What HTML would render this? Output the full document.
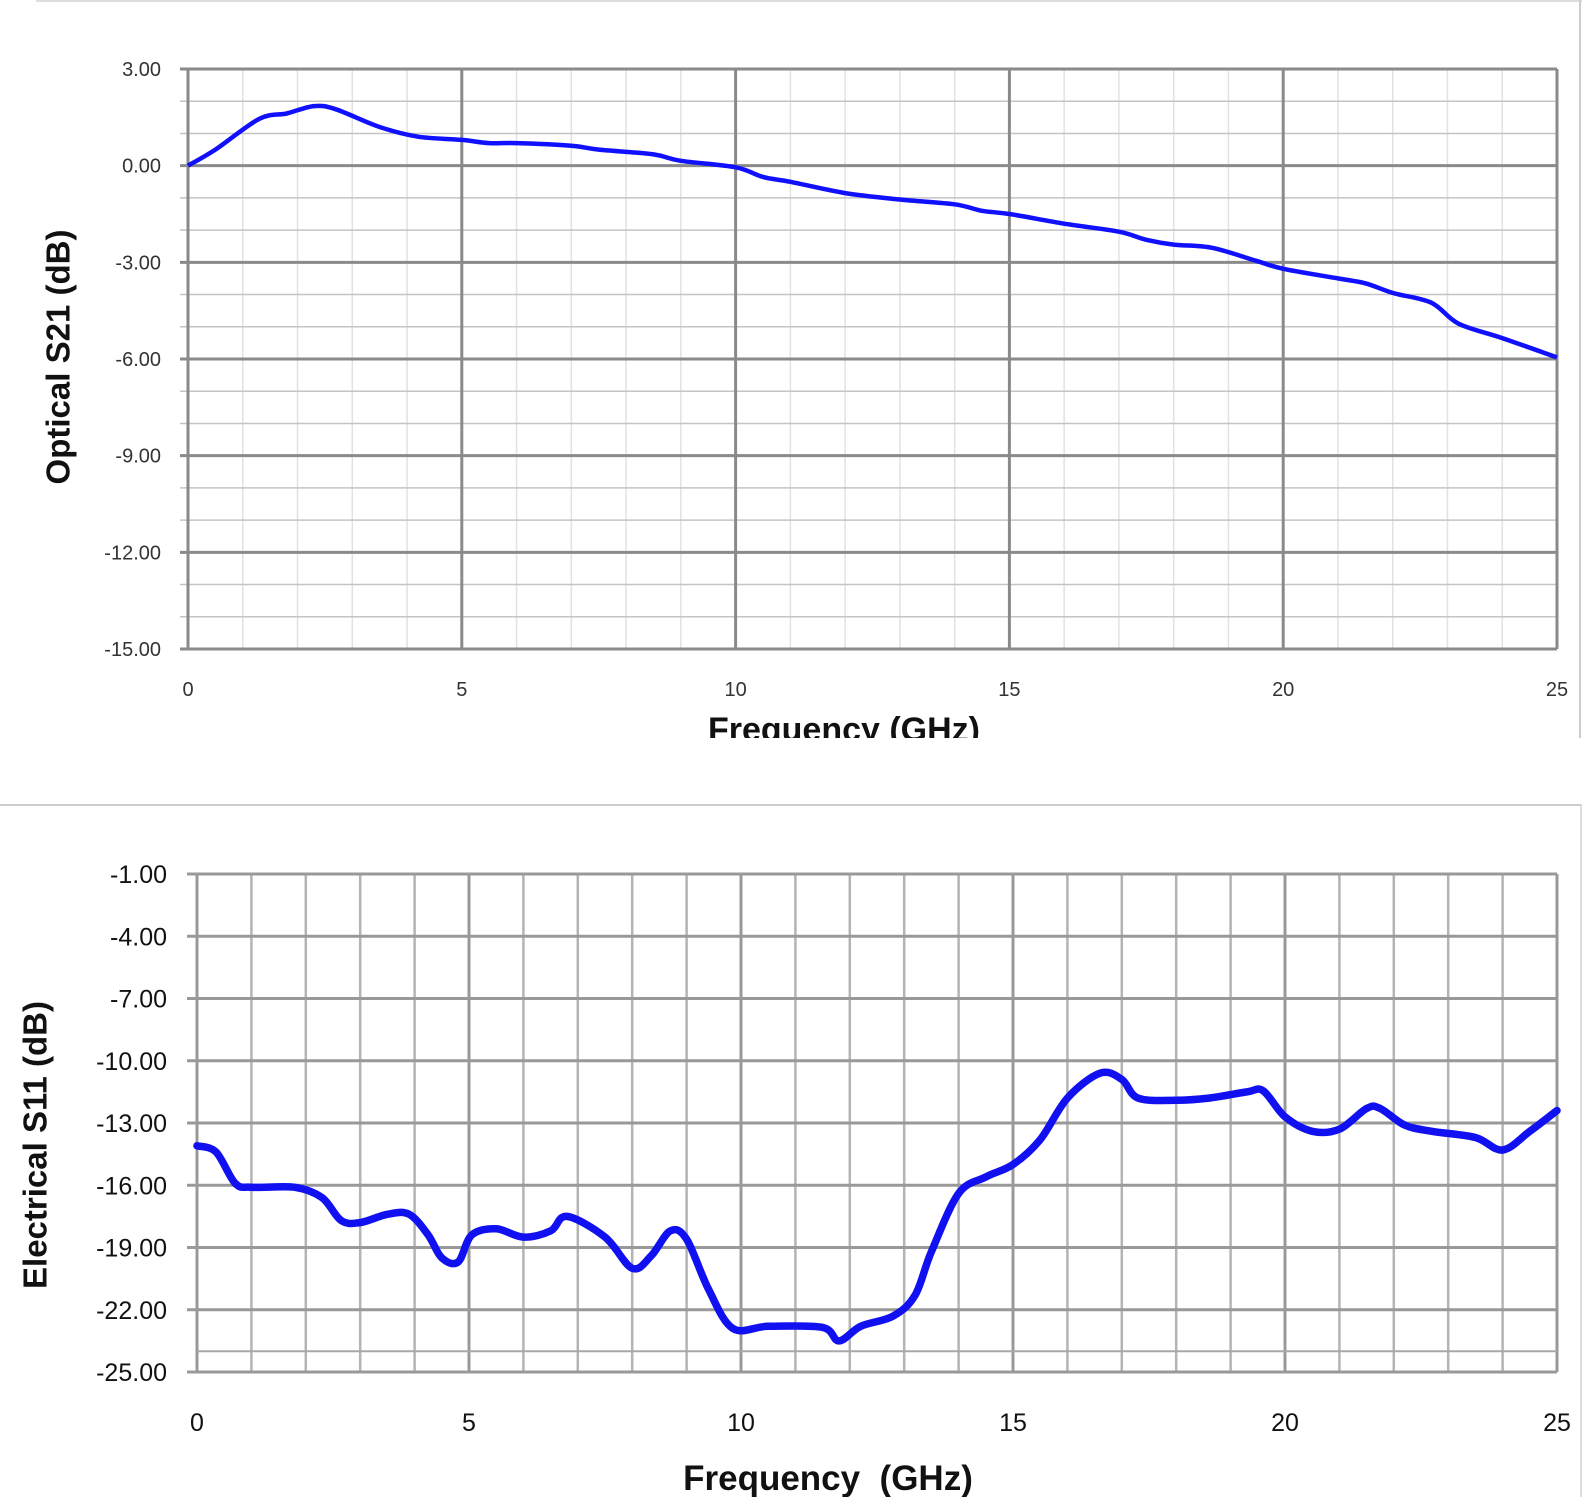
<!DOCTYPE html>
<html><head><meta charset="utf-8"><style>
html,body{margin:0;padding:0;background:#fff;}
svg{display:block;font-family:"Liberation Sans","DejaVu Sans",sans-serif;}
</style></head><body>
<svg id="s" width="1582" height="1497" viewBox="0 0 1582 1497" xmlns="http://www.w3.org/2000/svg">
<rect width="1582" height="1497" fill="#fff"/>
<line x1="36" y1="1" x2="1582" y2="1" stroke="#ddd" stroke-width="2"/>
<line x1="1580" y1="0" x2="1580" y2="738" stroke="#ccc" stroke-width="2"/>
<line x1="0" y1="805" x2="1582" y2="805" stroke="#ccc" stroke-width="2"/>
<line x1="1581" y1="805" x2="1581" y2="1497" stroke="#ddd" stroke-width="2"/>
<g id="top"></g>
<g id="bot"></g>
<text x="58" y="357" transform="rotate(-90 58 357)" text-anchor="middle" dominant-baseline="central" font-size="33" font-weight="bold" fill="#111">Optical S21 (dB)</text>
<svg x="0" y="700" width="1582" height="38" overflow="hidden"><text x="844" y="41" text-anchor="middle" font-size="34" font-weight="bold" fill="#111">Frequency (GHz)</text></svg>
<text x="35" y="1145" transform="rotate(-90 35 1145)" text-anchor="middle" dominant-baseline="central" font-size="33" font-weight="bold" fill="#111">Electrical S11 (dB)</text>
<text x="828" y="1490" text-anchor="middle" font-size="35" font-weight="bold" fill="#111" xml:space="preserve">Frequency  (GHz)</text>
</svg>
<script>
var NS="http://www.w3.org/2000/svg";
function el(p,t,a,txt){var e=document.createElementNS(NS,t);for(var k in a)e.setAttribute(k,a[k]);if(txt!=null)e.textContent=txt;p.appendChild(e);return e;}
function smooth(pts){var d="M"+pts[0][0].toFixed(1)+","+pts[0][1].toFixed(1);
for(var i=0;i<pts.length-1;i++){var p0=pts[i-1]||pts[i],p1=pts[i],p2=pts[i+1],p3=pts[i+2]||p2;
var c1=[p1[0]+(p2[0]-p0[0])/6,p1[1]+(p2[1]-p0[1])/6],c2=[p2[0]-(p3[0]-p1[0])/6,p2[1]-(p3[1]-p1[1])/6];
d+=" C"+c1[0].toFixed(1)+","+c1[1].toFixed(1)+" "+c2[0].toFixed(1)+","+c2[1].toFixed(1)+" "+p2[0].toFixed(1)+","+p2[1].toFixed(1);}return d;}
var T=document.getElementById("top");
var x0=188,x1=1557,yT=69,yB=649;
function tx(f){return x0+(x1-x0)*f/25;} function ty(v){return yT+(3-v)*(yB-yT)/18;}
for(var f=0;f<=25;f++){if(f%5)el(T,"line",{x1:tx(f),y1:yT,x2:tx(f),y2:yB,stroke:"#e2e2e2","stroke-width":1.5});}
for(var v=3;v>=-15;v--){var maj=(v%3==0);
 if(!maj)el(T,"line",{x1:x0-8,y1:ty(v),x2:x1,y2:ty(v),stroke:"#c4c4c4","stroke-width":1.5});}
for(var v=3;v>=-15;v-=3){el(T,"line",{x1:x0-8,y1:ty(v),x2:x1,y2:ty(v),stroke:"#8a8a8a","stroke-width":3});
 el(T,"text",{x:161,y:ty(v)+7,"text-anchor":"end","font-size":20,fill:"#333"},v.toFixed(2));}
for(var f=0;f<=25;f+=5){el(T,"line",{x1:tx(f),y1:yT,x2:tx(f),y2:yB,stroke:"#8a8a8a","stroke-width":3});
 el(T,"text",{x:tx(f),y:696,"text-anchor":"middle","font-size":20,fill:"#333"},String(f));}
var td=[[0,0],[0.5,0.5],[1.3,1.45],[1.8,1.62],[2.3,1.85],[2.7,1.75],[3.5,1.2],[4.2,0.9],[5,0.8],[5.5,0.7],[6,0.7],[7,0.62],[7.5,0.5],[8.5,0.35],[9,0.15],[10,-0.05],[10.5,-0.35],[11,-0.5],[12,-0.85],[13,-1.05],[14,-1.2],[14.5,-1.4],[15,-1.5],[16,-1.8],[17,-2.05],[17.5,-2.3],[18,-2.45],[18.7,-2.55],[19.5,-2.95],[20,-3.2],[21,-3.5],[21.5,-3.65],[22,-3.95],[22.7,-4.25],[23.2,-4.9],[24,-5.35],[25,-5.95]];
el(T,"path",{d:smooth(td.map(function(p){return[tx(p[0]),ty(p[1])];})),fill:"none",stroke:"#1010ff","stroke-width":4.5,"stroke-linejoin":"round"});
var B=document.getElementById("bot");
var bx0=197,bx1=1557,bT=874,bB=1372;
function bx(f){return bx0+(bx1-bx0)*f/25;} function by(v){return bT+(-1-v)*(bB-bT)/24;}
for(var f=0;f<=25;f++){var m=(f%5==0);el(B,"line",{x1:bx(f),y1:bT,x2:bx(f),y2:bB,stroke:m?"#999":"#b4b4b4","stroke-width":m?3:2.5});}
el(B,"line",{x1:bx0,y1:by(-24),x2:bx1,y2:by(-24),stroke:"#a8a8a8","stroke-width":2});
for(var v=-1;v>=-25;v-=3){el(B,"line",{x1:bx0-10,y1:by(v),x2:bx1,y2:by(v),stroke:"#999","stroke-width":3});
 el(B,"text",{x:167,y:by(v)+9,"text-anchor":"end","font-size":25,fill:"#111"},v.toFixed(2));}
for(var f=0;f<=25;f+=5){el(B,"text",{x:bx(f),y:1431,"text-anchor":"middle","font-size":25,fill:"#111"},String(f));}
var bd=[[0,-14.1],[0.35,-14.4],[0.7,-15.9],[1,-16.1],[1.8,-16.1],[2.3,-16.6],[2.65,-17.7],[3,-17.8],[3.5,-17.4],[3.9,-17.4],[4.25,-18.4],[4.5,-19.5],[4.8,-19.7],[5.05,-18.4],[5.5,-18.1],[6,-18.5],[6.5,-18.2],[6.8,-17.5],[7.5,-18.5],[8,-20],[8.35,-19.4],[8.7,-18.2],[9,-18.6],[9.4,-21],[9.85,-22.9],[10.5,-22.8],[11.5,-22.85],[11.8,-23.5],[12.2,-22.8],[12.8,-22.3],[13.2,-21.3],[13.5,-19.2],[14,-16.4],[14.5,-15.6],[15,-15],[15.5,-13.8],[16,-11.8],[16.6,-10.6],[17,-10.9],[17.3,-11.8],[18,-11.9],[18.6,-11.8],[19.3,-11.5],[19.6,-11.45],[20,-12.7],[20.5,-13.4],[21,-13.3],[21.5,-12.3],[21.75,-12.3],[22.2,-13.1],[22.7,-13.4],[23.5,-13.7],[24,-14.3],[24.5,-13.4],[25,-12.4]];
el(B,"path",{d:smooth(bd.map(function(p){return[bx(p[0]),by(p[1])];})),fill:"none",stroke:"#1010f0","stroke-width":7.5,"stroke-linejoin":"round","stroke-linecap":"round"});
</script>
</body></html>
